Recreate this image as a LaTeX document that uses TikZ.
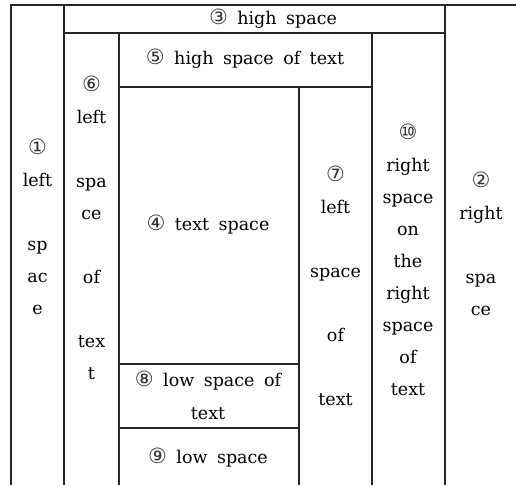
\documentclass[tikz,border=0pt]{standalone}
\usepackage{fontspec}
\setmainfont{DejaVu Serif}[WordSpace=1.7]
\newfontfamily\circfont{DejaVu Sans}
\usepackage{tikz}
\usetikzlibrary{positioning}

\newcommand{\cn}[1]{{\circfont\fontsize{21}{32}\selectfont\color{black!80}#1}}

\tikzset{
  rule/.style={line width=1.3pt, black!85},
  cell/.style={align=center, inner sep=0pt, text=black,
    font=\fontsize{17.5}{32}\selectfont}
}

\begin{document}
\begin{tikzpicture}[x=1pt,y=-1pt]
  \useasboundingbox (0,0) rectangle (516,485);

  % Outer frame and page margins
  \draw[rule] (11,485) -- (11,5) -- (516,5);
  \draw[rule] (64,485) -- (64,5);
  \draw[rule] (445,485) -- (445,5);

  % Inner frame
  \draw[rule] (64,33) -- (445,33);
  \draw[rule] (119,485) -- (119,33);
  \draw[rule] (372,485) -- (372,33);
  \draw[rule] (119,87) -- (372,87);

  % Text block
  \draw[rule] (299,485) -- (299,87);
  \draw[rule] (119,364) -- (299,364);
  \draw[rule] (119,428) -- (299,428);

  % Labels
  \node[cell] (leftsp) at (37.5,227) {\cn{①}\\left\\~\\sp\\ac\\e};
  \node[cell] (rightsp) at (481,244) {\cn{②}\\right\\~\\spa\\ce};
  \node[cell] (highsp) at (273,19) {\cn{③} high space};
  \node[cell] (textsp) at (208,225) {\cn{④} text space};
  \node[cell] (highsptext) at (245,59) {\cn{⑤} high space of text};
  \node[cell] (leftsptext) at (91.5,228) {\cn{⑥}\\left\\~\\spa\\ce\\~\\of\\~\\tex\\t};
  \node[cell] (rightsptext) at (335.5,286) {\cn{⑦}\\left\\~\\space\\~\\of\\~\\text};
  \node[cell] (lowsptext) at (208,395) {\cn{⑧} low space of\\[1pt]text};
  \node[cell] (lowsp) at (208,458) {\cn{⑨} low space};
  \node[cell] (outersp) at (408,260) {\cn{⑩}\\right\\space\\on\\the\\right\\space\\of\\text};
\end{tikzpicture}
\end{document}
